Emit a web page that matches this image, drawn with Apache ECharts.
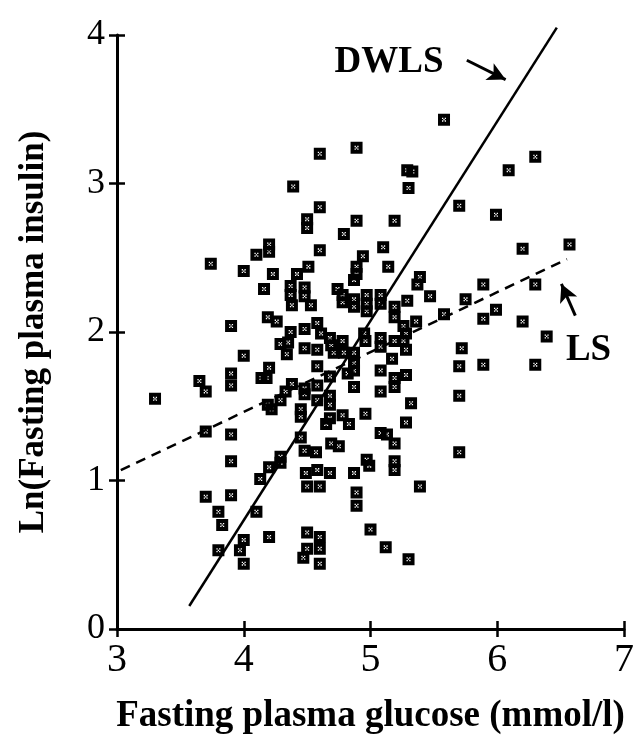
<!DOCTYPE html>
<html>
<head>
<meta charset="utf-8">
<script src="https://cdn.jsdelivr.net/npm/echarts@6/dist/echarts.min.js"></script>
<style>html,body{margin:0;padding:0;background:#fff}#c{width:637px;height:740px}</style>
</head>
<body>
<div id="c"></div>
<script>
// Fasting plasma glucose (mmol/l)
const glucose = [
5.58,4.89,4.60,6.30,6.09,5.29,5.33,4.39,5.30,4.60,5.70,5.99,4.50,4.50,4.89,5.19,4.79,4.20,4.20,4.10,
4.60,5.10,6.20,6.57,3.74,4.94,4.89,4.89,4.00,4.23,4.51,4.42,5.14,5.39,4.16,4.19,4.26,3.90,5.75,5.89,
6.30,5.99,5.89,6.20,6.39,5.72,5.70,5.89,6.30,5.70,5.70,4.00,4.20,4.14,4.18,3.90,3.90,3.65,3.70,3.30,
4.19,4.22,4.29,3.70,3.90,4.29,4.29,3.90,4.20,4.13,4.29,4.35,4.34,4.50,4.60,5.39,3.70,3.90,4.89,4.89,
3.80,4.10,3.83,5.00,4.50,4.50,4.60,4.60,4.60,4.20,4.00,3.97,4.00,3.80,4.47,5.12,5.30,
4.37,4.37,4.38,4.48,4.48,4.53,4.87,4.74,4.78,4.78,4.87,4.87,4.97,4.97,4.97,5.08,5.08,5.19,5.19,5.29,
5.37,5.47,5.26,5.28,5.36,5.58,4.37,4.48,4.58,4.61,4.68,4.69,4.48,4.58,4.78,4.71,4.79,4.87,4.96,4.95,
5.08,5.08,5.19,5.26,5.28,5.17,4.58,4.68,4.87,4.87,4.87,4.82,5.08,5.19,5.19,5.28,5.08,4.38,4.48,4.48,
4.58,4.58,4.68,4.68,4.45,4.45,5.32,5.28,4.96,4.78,4.83,4.68,4.65,5.08,5.19,5.13,4.48,4.57,4.69,4.75,
4.45,4.97,4.99,5.19,5.19,4.87,4.49,4.58,4.68,4.33
];
// Ln(Fasting plasma insulin)
const insulin = [
3.43,3.24,3.20,3.18,3.09,3.09,3.08,2.98,2.97,2.84,2.85,2.79,2.76,2.70,2.75,2.75,2.66,2.59,2.54,2.52,
2.55,2.57,2.56,2.59,2.46,2.51,2.44,2.39,2.41,2.39,2.44,2.39,2.44,2.37,2.29,2.10,2.07,2.04,2.22,2.32,
2.32,2.15,2.09,2.07,1.97,1.89,1.77,1.78,1.78,1.57,1.19,1.84,1.76,1.69,1.69,1.72,1.64,1.67,1.60,1.55,
1.51,1.48,1.54,1.33,1.31,1.16,1.12,1.13,1.09,1.01,1.92,1.93,1.85,0.96,0.96,0.96,0.89,0.90,0.92,0.83,
0.79,0.79,0.70,0.67,0.65,0.54,0.62,0.54,0.44,0.62,0.60,0.53,0.44,0.53,0.48,0.55,0.47,
2.31,2.25,2.18,2.30,2.24,2.18,2.35,2.29,2.25,2.20,2.22,2.17,2.25,2.19,2.14,2.25,2.19,2.17,2.10,2.21,
2.32,2.24,2.04,1.99,2.07,2.12,2.00,2.02,2.06,1.99,1.96,1.91,1.89,1.88,1.94,1.86,1.86,1.86,1.94,1.99,
1.96,1.90,1.94,1.94,1.88,1.82,1.77,1.70,1.79,1.74,1.63,1.72,1.74,1.69,1.63,1.71,1.60,1.65,1.62,1.58,
1.64,1.54,1.57,1.51,1.48,1.43,1.52,1.39,1.45,1.44,1.38,1.42,1.38,1.32,1.25,1.31,1.20,1.19,1.25,1.23,
1.29,1.14,1.10,1.13,1.07,1.05,1.05,1.07,1.05,1.60
];
// Fitted lines (end points)
const dwlsX = [3.57, 6.47];
const dwlsY = [0.155, 4.05];
const lsX = [3.03, 6.55];
const lsY = [1.07, 2.49];
// Annotation anchors
const dwlsLabel = [5.146, 3.818];
const dwlsArrow = [[5.76, 3.83], [6.066, 3.70]];
const lsLabel = [6.72, 1.875];
const lsArrow = [[6.616, 2.11], [6.506, 2.324]];

const serif = 'Liberation Serif';
const points = glucose.map((g, i) => [g, insulin[i]]);
const markerPath = 'path://M0,0H12V12H0Z M4,4V5.3H5.3V4Z M6.7,4V5.3H8V4Z M5.35,5.35V6.65H6.65V5.35Z M4,6.7V8H5.3V6.7Z M6.7,6.7V8H8V6.7Z';

const chart = echarts.init(document.getElementById('c'), null, {renderer: 'canvas'});
const axisCommonLine = {lineStyle: {color: '#000', width: 3}};
chart.setOption({
  animation: false,
  backgroundColor: '#fff',
  grid: {left: 117, right: 11, top: 35, bottom: 108, containLabel: false},
  xAxis: [{
    type: 'value', min: 3, max: 7, interval: 1,
    name: 'Fasting plasma glucose (mmol/l)', nameLocation: 'middle', nameGap: 69,
    nameTextStyle: {fontFamily: serif, fontWeight: 'bold', fontSize: 37, color: '#000'},
    axisLine: axisCommonLine,
    axisTick: {show: true, inside: false, length: 8, lineStyle: {color: '#000', width: 2.5}},
    axisLabel: {fontFamily: serif, fontSize: 40, color: '#000', margin: 11},
    splitLine: {show: false}
  }, {
    type: 'value', min: 3, max: 7, interval: 1, position: 'bottom',
    axisLine: {show: false}, axisLabel: {show: false}, splitLine: {show: false},
    axisTick: {show: true, inside: true, length: 8, lineStyle: {color: '#000', width: 2.5}}
  }],
  yAxis: [{
    type: 'value', min: 0, max: 4, interval: 1,
    name: 'Ln(Fasting plasma insulin)', nameLocation: 'middle', nameGap: 66,
    nameTextStyle: {fontFamily: serif, fontWeight: 'bold', fontSize: 35, color: '#000'},
    axisLine: axisCommonLine,
    axisTick: {show: true, inside: false, length: 8, lineStyle: {color: '#000', width: 2.5}},
    axisLabel: {fontFamily: serif, fontSize: 36, color: '#000', margin: 12},
    splitLine: {show: false}
  }, {
    type: 'value', min: 0, max: 4, interval: 1, position: 'left',
    axisLine: {show: false}, axisLabel: {show: false}, splitLine: {show: false},
    axisTick: {show: true, inside: true, length: 8, lineStyle: {color: '#000', width: 2.5}}
  }],
  series: [{
    type: 'scatter', xAxisIndex: 0, yAxisIndex: 0,
    data: points,
    symbol: markerPath, symbolSize: 12,
    itemStyle: {color: '#000', opacity: 1},
    z: 3
  }, {
    type: 'line', xAxisIndex: 0, yAxisIndex: 0,
    data: dwlsX.map((x, i) => [x, dwlsY[i]]),
    symbol: 'none', clip: false,
    lineStyle: {color: '#000', width: 2.5, type: 'solid'},
    z: 4,
    markPoint: {
      symbol: 'circle', symbolSize: 0, silent: true,
      data: [{coord: dwlsLabel, label: {show: true, position: 'inside', formatter: 'DWLS',
        fontFamily: serif, fontWeight: 'bold', fontSize: 37, color: '#000'}}]
    },
    markLine: {
      silent: true, symbol: ['none', 'arrow'], symbolSize: [14, 18],
      lineStyle: {color: '#000', width: 3, type: 'solid'}, label: {show: false},
      data: [[{coord: dwlsArrow[0]}, {coord: dwlsArrow[1]}]]
    }
  }, {
    type: 'line', xAxisIndex: 0, yAxisIndex: 0,
    data: lsX.map((x, i) => [x, lsY[i]]),
    symbol: 'none', clip: false,
    lineStyle: {color: '#000', width: 2.5, type: [10, 7]},
    z: 4,
    markPoint: {
      symbol: 'circle', symbolSize: 0, silent: true,
      data: [{coord: lsLabel, label: {show: true, position: 'inside', formatter: 'LS',
        fontFamily: serif, fontWeight: 'bold', fontSize: 37, color: '#000'}}]
    },
    markLine: {
      silent: true, symbol: ['none', 'arrow'], symbolSize: [14, 18],
      lineStyle: {color: '#000', width: 3, type: 'solid'}, label: {show: false},
      data: [[{coord: lsArrow[0]}, {coord: lsArrow[1]}]]
    }
  }]
});
</script>
</body>
</html>
